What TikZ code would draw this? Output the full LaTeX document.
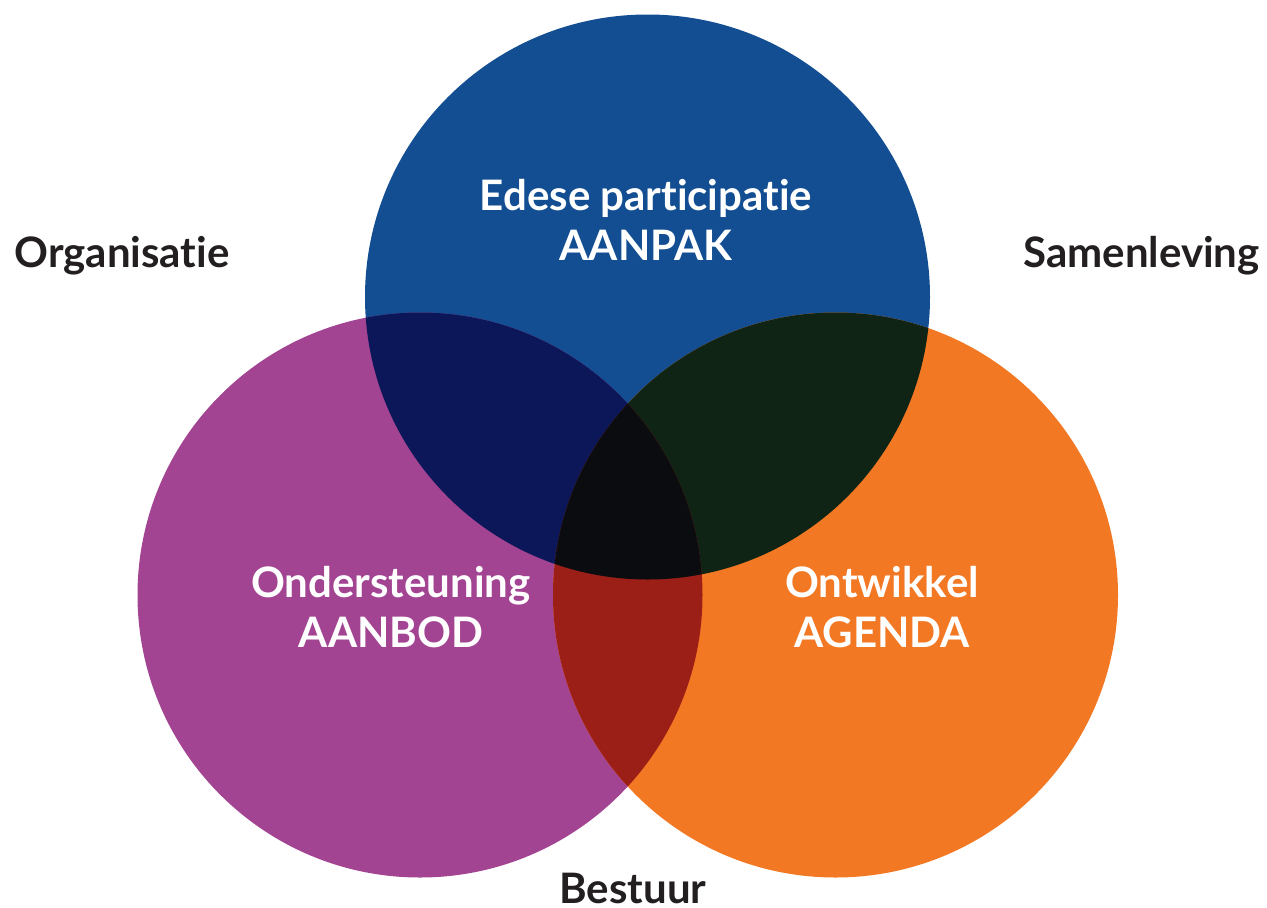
\documentclass[tikz,border=0pt]{standalone}
\usepackage{fontspec}
\setmainfont{Lato}[Ligatures=NoCommon]
\definecolor{cblue}{HTML}{124E91}
\definecolor{cpurple}{HTML}{A34493}
\definecolor{corange}{HTML}{F37824}
\definecolor{cbp}{HTML}{0B1758}
\definecolor{cbo}{HTML}{102416}
\definecolor{cpo}{HTML}{9C1F17}
\definecolor{cbpo}{HTML}{0B0C10}
\definecolor{ctext}{HTML}{231F20}
\begin{document}
\begin{tikzpicture}[x=1pt,y=-1pt,
  outer/.style={font=\fontsize{42}{44}\selectfont\bfseries, text=ctext, inner sep=0pt, anchor=base},
  inner/.style={font=\fontsize{42}{50}\selectfont\bfseries, text=white, align=center, inner sep=0pt, anchor=base}]
\useasboundingbox (0,0) rectangle (1267,908);
\def\rr{282.5}
\coordinate (B) at (647.5,297);
\coordinate (P) at (420,595);
\coordinate (O) at (835.5,595);
\fill[cblue] (B) circle (\rr);
\fill[cpurple] (P) circle (\rr);
\fill[corange] (O) circle (\rr);
\begin{scope}
  \clip (B) circle (\rr);
  \fill[cbp] (P) circle (\rr);
  \fill[cbo] (O) circle (\rr);
\end{scope}
\begin{scope}
  \clip (P) circle (\rr);
  \fill[cpo] (O) circle (\rr);
  \clip (O) circle (\rr);
  \fill[cbpo] (B) circle (\rr);
\end{scope}
\node[inner] (t1) at (646,260) {Edese participatie\\AANPAK};
\node[inner] (t2) at (391,647) {Ondersteuning\\AANBOD};
\node[inner] (t3) at (882,647) {Ontwikkel\\AGENDA};
\node[outer] (l1) at (122,267) {Organisatie};
\node[outer] (l2) at (1141.5,267) {Samenleving};
\node[outer] (l3) at (633,903) {Bestuur};
\end{tikzpicture}
\end{document}
